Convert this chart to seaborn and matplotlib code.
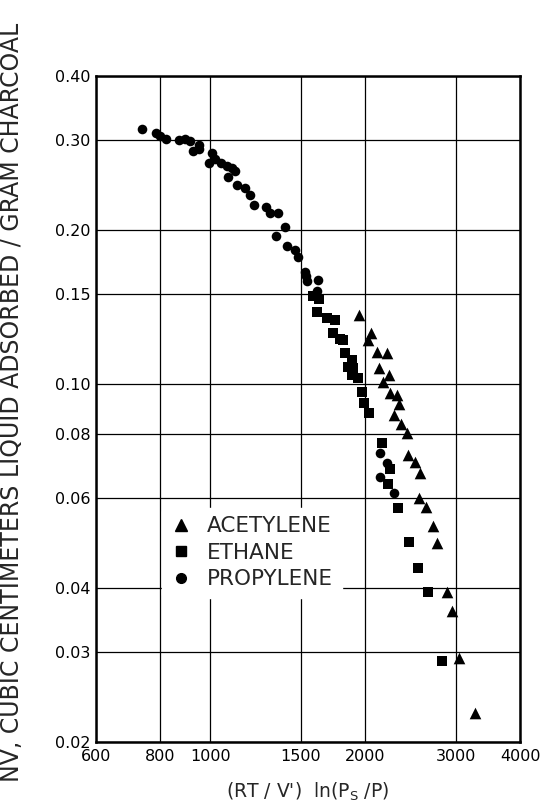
import matplotlib
matplotlib.use("Agg")
import matplotlib.pyplot as plt
import seaborn as sns
import pandas as pd
from matplotlib.ticker import FixedLocator, FixedFormatter, NullLocator
from matplotlib.lines import Line2D

# ---- data ----
acetylene_x = [1949, 2051, 2029, 2107, 2204, 2131, 2229, 2164, 2236, 2304, 2330, 2277,
               2345, 2410, 2427, 2501, 2558, 2546, 2627, 2714, 2756, 2882, 2947, 3048, 3270]
acetylene_y = [0.1364, 0.1257, 0.1220, 0.1158, 0.1149, 0.1075, 0.1042, 0.1012, 0.0960, 0.0953,
               0.0915, 0.0871, 0.0836, 0.0802, 0.0728, 0.0706, 0.0672, 0.0599, 0.0575, 0.0528,
               0.0489, 0.0393, 0.0361, 0.0292, 0.0228]

ethane_x = [1582, 1630, 1611, 1684, 1749, 1735, 1788, 1814, 1828, 1883, 1855, 1897, 1883,
            1940, 1970, 1990, 2038, 2155, 2236, 2220, 2321, 2438, 2538, 2654, 2818]
ethane_y = [0.1484, 0.1470, 0.1386, 0.1346, 0.1335, 0.1257, 0.1224, 0.1220, 0.1149, 0.1115,
            0.1082, 0.1075, 0.1042, 0.1027, 0.0966, 0.0918, 0.0880, 0.0767, 0.0682, 0.0638,
            0.0572, 0.0492, 0.0437, 0.0392, 0.0288]

propylene_x = [736, 785, 799, 821, 871, 893, 914, 928, 953, 953, 1007, 996, 1022, 1048, 1077,
               1101, 1118, 1082, 1126, 1169, 1195, 1217, 1283, 1307, 1357, 1398, 1341, 1409,
               1462, 1483, 1529, 1534, 1540, 1622, 1611, 2138, 2210, 2138, 2277]
propylene_y = [0.315, 0.309, 0.306, 0.301, 0.300, 0.302, 0.299, 0.286, 0.288, 0.293, 0.283,
               0.270, 0.275, 0.270, 0.267, 0.265, 0.261, 0.254, 0.245, 0.242, 0.234, 0.224,
               0.222, 0.216, 0.216, 0.203, 0.195, 0.186, 0.183, 0.177, 0.166, 0.163, 0.159,
               0.160, 0.152, 0.0733, 0.0701, 0.0658, 0.0614]

gas_names = ["ACETYLENE", "ETHANE", "PROPYLENE"]
x_ticks = [600, 800, 1000, 1500, 2000, 3000, 4000]
x_tick_labels = ["600", "800", "1000", "1500", "2000", "3000", "4000"]
y_ticks = [0.02, 0.03, 0.04, 0.06, 0.08, 0.10, 0.15, 0.20, 0.30, 0.40]
y_tick_labels = ["0.02", "0.03", "0.04", "0.06", "0.08", "0.10", "0.15", "0.20", "0.30", "0.40"]

df = pd.DataFrame({
    "x": acetylene_x + ethane_x + propylene_x,
    "y": acetylene_y + ethane_y + propylene_y,
    "gas": [gas_names[0]] * len(acetylene_x) + [gas_names[1]] * len(ethane_x)
           + [gas_names[2]] * len(propylene_x),
})

sns.set_style("white")
plt.rcParams["font.family"] = ["DejaVu Sans"]

fig = plt.figure(figsize=(5.5, 8.07), dpi=100)
ax = fig.add_axes([0.1745, 0.0805, 0.771, 0.8253])

markers = {"ACETYLENE": "^", "ETHANE": "s", "PROPYLENE": "o"}
sizes_map = {"ACETYLENE": 70, "ETHANE": 42, "PROPYLENE": 48}
for g in gas_names:
    sub = df[df["gas"] == g]
    sns.scatterplot(data=sub, x="x", y="y", marker=markers[g], s=sizes_map[g],
                    color="black", edgecolor="black", linewidth=0, ax=ax, zorder=3,
                    legend=False)

ax.set_xscale("log")
ax.set_yscale("log")
ax.set_xlim(600, 4000)
ax.set_ylim(0.02, 0.40)

ax.xaxis.set_major_locator(FixedLocator(x_ticks))
ax.xaxis.set_major_formatter(FixedFormatter(x_tick_labels))
ax.xaxis.set_minor_locator(NullLocator())
ax.yaxis.set_major_locator(FixedLocator(y_ticks))
ax.yaxis.set_major_formatter(FixedFormatter(y_tick_labels))
ax.yaxis.set_minor_locator(NullLocator())

ax.grid(True, which="major", color="black", linewidth=0.9)
ax.set_axisbelow(True)
ax.tick_params(axis="both", length=0, labelsize=11.5, colors="black")
ax.tick_params(axis="x", pad=5)
ax.tick_params(axis="y", pad=4)

for sp in ax.spines.values():
    sp.set_visible(True)
    sp.set_color("black")
    sp.set_linewidth(1.8)

ax.set_xlabel("(RT / V')  ln(P$_\\mathregular{S}$ /P)", fontsize=13.5, labelpad=12)
ax.set_ylabel("NV, CUBIC CENTIMETERS LIQUID ADSORBED / GRAM CHARCOAL", fontsize=17.0)
ax.yaxis.set_label_coords(-0.170, 0.51)

handles = [Line2D([], [], linestyle="none", marker=markers[g], color="black",
                  markersize=8 if g == "ACETYLENE" else 7) for g in gas_names]
leg = ax.legend(handles, gas_names, loc="upper left", bbox_to_anchor=(0.13, 0.368),
                frameon=True, fontsize=15.5, handlelength=1.0, handletextpad=0.7,
                labelspacing=0.3, borderpad=0.4)
leg.get_frame().set_facecolor("white")
leg.get_frame().set_edgecolor("white")
leg.get_frame().set_alpha(1)

fig.savefig("out.png", dpi=100)
